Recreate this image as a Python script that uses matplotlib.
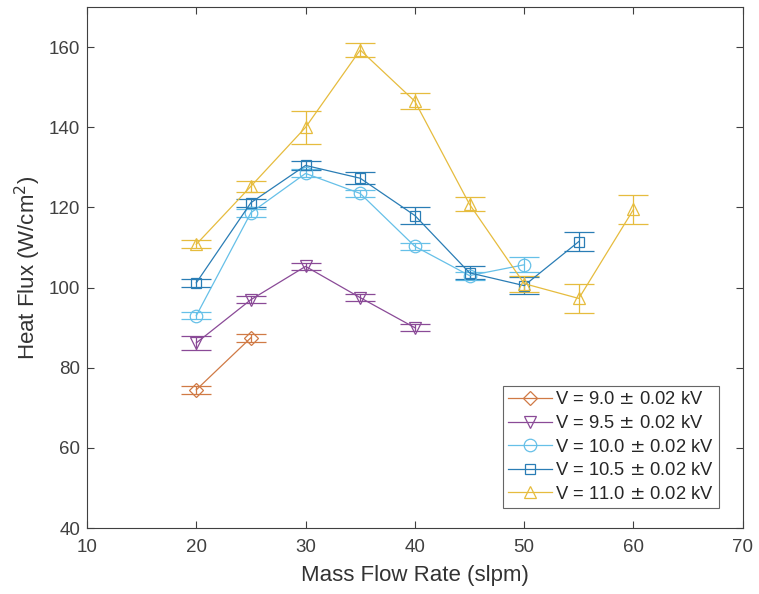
import matplotlib.pyplot as plt
from matplotlib.lines import Line2D

plt.rcParams['font.family'] = ['Liberation Sans', 'DejaVu Sans']

# mass flow rate (slpm) and heat flux (W/cm^2) for each voltage
x_90 = [20, 25]
y_90 = [74.5, 87.5]
e_90 = [1.0, 1.0]

x_95 = [20, 25, 30, 35, 40]
y_95 = [86.2, 97.0, 105.3, 97.5, 90.0]
e_95 = [1.8, 0.8, 0.8, 0.8, 0.8]

x_100 = [20, 25, 30, 35, 40, 45, 50]
y_100 = [93.0, 118.7, 128.5, 123.5, 110.3, 103.0, 105.7]
e_100 = [0.9, 1.0, 1.0, 0.9, 0.9, 1.0, 1.9]

x_105 = [20, 25, 30, 35, 40, 45, 50, 55]
y_105 = [101.2, 121.2, 130.5, 127.3, 118.0, 103.7, 100.5, 111.5]
e_105 = [1.0, 1.0, 1.2, 1.5, 2.0, 1.6, 2.2, 2.4]

x_110 = [20, 25, 30, 35, 40, 45, 50, 55, 60]
y_110 = [110.8, 125.3, 140.0, 159.3, 146.5, 120.8, 101.0, 97.3, 119.5]
e_110 = [1.0, 1.4, 4.2, 1.8, 2.0, 1.8, 2.0, 3.6, 3.5]

labels = ['V = 9.0 $\\pm$ 0.02 kV', 'V = 9.5 $\\pm$ 0.02 kV',
          'V = 10.0 $\\pm$ 0.02 kV', 'V = 10.5 $\\pm$ 0.02 kV',
          'V = 11.0 $\\pm$ 0.02 kV']

fig = plt.figure(figsize=(7.59, 5.94), dpi=100)
ax = fig.add_axes([0.1146, 0.111, 0.864, 0.877])

series = [
    (x_90, y_90, e_90, '#D07A45', 'D', 7),
    (x_95, y_95, e_95, '#8A4A97', 'v', 9),
    (x_100, y_100, e_100, '#66C0E8', 'o', 9),
    (x_105, y_105, e_105, '#2A7DB5', 's', 7.5),
    (x_110, y_110, e_110, '#E6BC3E', '^', 9),
]

handles = []
for (x, y, e, c, m, ms), lab in zip(series, labels):
    ax.errorbar(x, y, yerr=e, color=c, marker=m, markersize=ms,
                markerfacecolor='none', markeredgecolor=c, markeredgewidth=0.9,
                lw=0.9, elinewidth=0.9, capsize=11, capthick=0.9)
    handles.append(Line2D([], [], color=c, marker=m, markersize=ms,
                          markerfacecolor='none', markeredgewidth=0.9, lw=0.9,
                          label=lab))

ax.set_xlim(10, 70)
ax.set_ylim(40, 170)
ax.set_xticks([10, 20, 30, 40, 50, 60, 70])
ax.set_yticks([40, 60, 80, 100, 120, 140, 160])
ax.tick_params(direction='in', length=5, width=0.8, labelsize=13.5,
               top=True, right=True, colors='#404040')
ax.tick_params(axis='x', pad=8)
ax.tick_params(axis='y', pad=5)
for s in ax.spines.values():
    s.set_linewidth(0.8)
    s.set_color('#404040')

ax.set_xlabel('Mass Flow Rate (slpm)', fontsize=16, color='#333333', labelpad=6)
ax.set_ylabel('Heat Flux (W/cm$^2$)', fontsize=16, color='#333333', labelpad=4)

leg = ax.legend(handles=handles, loc='lower right',
                bbox_to_anchor=(0.964, 0.038), fontsize=13.2,
                frameon=True, fancybox=False, edgecolor='#404040',
                handlelength=2.4, handletextpad=0.15, labelspacing=0.36,
                borderpad=0.3, borderaxespad=0)
leg.get_frame().set_linewidth(0.8)
for t in leg.get_texts():
    t.set_color('#262626')

fig.savefig('out.png', dpi=100)
